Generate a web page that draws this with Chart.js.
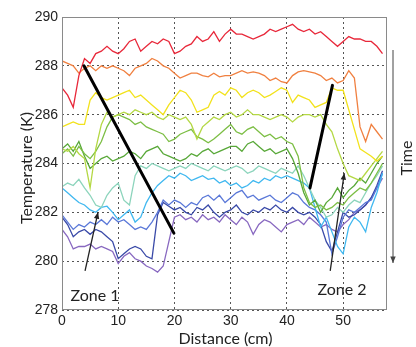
<!DOCTYPE html>
<html>
<head>
<meta charset="utf-8">
<script src="https://cdn.jsdelivr.net/npm/chart.js@4.4.1/dist/chart.umd.min.js"></script>
<style>
  html, body { margin: 0; padding: 0; background: #fff; }
  #wrap { width: 416px; height: 347px; }
</style>
</head>
<body>
<div id="wrap"><canvas id="chart" width="416" height="347"></canvas></div>
<script>
// distance along the sample (cm)
const distance = [0,1,2,3,4,5,6,7,8,9,10,11,12,13,14,15,16,17,18,19,20,21,22,23,24,25,26,27,28,29,
  30,31,32,33,34,35,36,37,38,39,40,41,42,43,44,45,46,47,48,49,50,51,52,53,54,55,56,57];

// temperature profiles (K), earliest first
const tRed = [287.1,286.8,286.3,287.6,288.3,288.1,288.5,288.6,288.8,288.6,288.5,288.7,289.0,289.1,288.6,288.8,289.0,288.9,289.1,289.0,
  288.5,288.6,288.8,288.9,289.2,289.0,289.1,289.4,289.0,289.3,289.5,289.3,289.3,289.2,289.1,289.2,289.3,289.5,289.4,289.5,
  289.6,289.7,289.5,289.4,289.5,289.3,289.4,289.2,289.0,288.8,289.0,289.2,289.1,289.1,289.0,289.0,288.8,288.5];
const tOrange = [288.2,288.1,288.0,287.7,287.9,288.0,287.8,288.0,287.9,288.0,287.9,287.8,287.6,287.9,288.0,288.1,288.3,288.2,288.0,287.9,
  287.7,287.5,287.6,287.7,287.7,287.6,287.55,287.7,287.55,287.6,287.6,287.7,287.8,287.7,287.75,287.7,287.6,287.4,287.5,287.35,
  287.3,287.6,287.75,287.8,287.75,287.7,287.6,287.4,287.5,287.3,287.4,287.8,287.5,285.5,284.9,285.6,285.3,285.0];
const tYellow = [285.5,285.6,285.7,285.6,285.6,286.6,286.9,286.7,286.6,286.7,286.8,286.9,287.0,286.7,286.8,286.6,286.4,286.2,286.0,286.4,
  286.7,287.0,286.9,286.6,286.1,286.2,286.3,286.8,286.95,286.8,287.1,287.0,286.7,286.9,287.0,286.9,286.7,286.8,286.95,287.1,
  287.0,286.5,286.8,286.7,286.6,286.3,286.4,286.5,287.1,287.0,287.0,286.2,285.4,284.6,284.45,284.3,284.1,284.3];
const tLime = [284.6,284.5,284.7,284.4,284.2,283.0,284.6,285.6,286.1,285.9,286.0,286.1,286.0,286.2,286.1,286.0,286.1,285.9,285.8,286.0,
  285.9,285.8,285.9,285.6,285.0,285.5,285.7,285.9,285.8,286.0,286.1,285.9,286.0,286.2,286.0,286.0,285.9,285.8,285.9,286.0,
  285.9,285.7,285.9,286.0,286.0,285.9,286.0,285.6,285.3,284.6,284.0,283.5,283.4,283.3,283.6,283.9,284.2,284.5];
const tGreen = [284.4,284.6,284.3,284.7,284.4,284.2,284.5,284.9,285.5,285.9,286.0,285.9,285.8,285.6,285.7,285.5,285.4,285.3,285.2,284.9,
  285.0,285.2,285.3,285.4,285.1,285.0,284.85,285.0,285.2,285.4,285.6,285.3,285.2,285.4,285.5,285.3,285.1,285.2,285.0,285.1,
  284.9,284.8,284.3,283.0,282.4,282.2,282.3,282.1,282.2,282.4,282.3,282.6,282.8,283.0,282.9,283.2,283.6,284.0];
const tDarkGreen = [284.6,284.8,284.5,284.9,284.3,283.8,284.0,284.2,284.3,284.1,284.2,284.3,284.5,284.4,284.2,284.5,284.6,284.7,284.4,284.3,
  284.2,284.1,284.2,284.4,284.3,284.5,284.6,284.4,284.5,284.6,284.7,284.7,284.5,284.8,284.9,284.7,284.5,284.6,284.4,284.5,
  284.6,284.2,283.6,282.8,282.3,282.5,282.0,282.4,282.6,283.0,282.6,282.9,283.1,283.4,283.2,283.6,284.0,284.3];
const tMint = [283.05,283.2,283.1,283.35,283.0,282.7,282.3,282.2,282.7,283.0,283.2,282.5,282.3,283.5,283.9,283.8,284.0,283.9,283.8,283.7,
  283.8,283.9,283.8,284.0,283.9,283.8,283.7,283.9,283.8,283.7,283.8,283.9,283.8,283.6,283.7,283.9,283.8,283.7,283.6,283.8,
  283.7,283.6,283.9,283.5,283.0,282.5,282.2,281.8,281.9,282.2,282.0,282.3,282.5,282.4,282.8,283.2,283.5,283.9];
const tSky = [283.0,282.8,282.6,282.4,282.3,282.1,282.0,282.2,282.25,282.0,281.7,281.9,282.1,281.6,281.8,282.4,282.8,283.1,283.3,283.5,
  283.4,283.6,283.5,283.3,283.4,283.5,283.35,283.4,283.2,283.3,283.1,283.2,283.0,283.1,283.3,283.2,283.4,283.3,283.5,283.4,
  283.5,283.4,283.3,283.2,283.0,282.2,281.4,281.8,281.2,280.6,280.3,281.4,281.8,281.6,281.2,282.2,282.8,283.6];
const tBlue = [281.9,281.6,281.3,281.5,281.4,281.6,281.5,281.7,281.5,281.8,281.6,281.7,281.5,281.3,281.4,281.3,281.6,282.0,282.5,282.3,
  282.5,282.4,282.2,282.4,282.3,282.6,282.7,282.5,282.7,282.4,282.6,282.8,282.9,282.6,282.7,282.5,282.6,282.7,282.5,282.4,
  282.6,282.8,282.7,282.4,282.2,282.1,281.9,281.6,280.3,281.0,281.8,282.1,282.0,282.2,282.4,282.5,283.0,283.6];
const tNavy = [281.8,281.5,281.0,281.2,281.3,281.1,281.3,281.2,281.0,280.8,280.1,280.3,280.5,280.6,280.5,280.2,280.1,281.9,282.4,282.25,
  282.1,282.2,282.0,281.9,282.2,282.1,282.3,282.0,281.8,282.0,282.1,282.3,282.0,281.9,282.1,282.0,282.2,282.1,282.3,282.1,
  282.0,282.2,282.0,281.9,282.0,281.8,281.5,280.8,280.4,281.2,282.0,281.8,281.9,282.1,282.3,282.6,283.1,283.7];
const tPurple = [281.3,281.0,280.5,280.6,280.6,280.7,280.5,280.6,280.5,280.4,279.9,280.2,280.35,280.1,280.0,279.8,279.7,279.55,279.8,280.8,
  281.8,281.9,281.7,281.8,281.6,281.9,281.7,281.8,281.6,281.9,281.7,281.5,281.8,281.6,281.1,281.5,281.7,281.6,281.4,281.2,
  281.5,281.6,281.7,281.5,281.8,281.6,281.4,281.5,281.3,281.2,281.5,281.7,282.0,282.1,282.3,282.6,283.0,283.4];

const profiles = [tRed, tOrange, tYellow, tLime, tGreen, tDarkGreen, tMint, tSky, tBlue, tNavy, tPurple];
const colors = ['#e8283a', '#f08040', '#f2e21c', '#b4d844', '#7cbe44', '#58a838', '#8cd4bc', '#40b8f0', '#5a78d8', '#3a4aa8', '#8868c0'];

const xTicks = [0, 10, 20, 30, 40, 50];
const yTicks = [278, 280, 282, 284, 286, 288, 290];

const labelFont = '16px Lato, "Open Sans", sans-serif';

// annotation marks: black front lines, arrows, labels
const overlay = {
  id: 'overlay',
  afterDatasetsDraw(chart) {
    const { ctx, chartArea: a, scales: { x, y } } = chart;
    const P = (dx, ty) => [x.getPixelForValue(dx), y.getPixelForValue(ty)];

    ctx.save();
    // frame
    ctx.strokeStyle = '#8a8a8a';
    ctx.lineWidth = 1;
    ctx.strokeRect(a.left + 0.5, a.top + 0.5, a.right - a.left - 1, a.bottom - a.top - 1);

    // thick front lines
    ctx.strokeStyle = '#000';
    ctx.lineWidth = 3;
    ctx.lineCap = 'round';
    [[3.9, 288.0, 19.9, 281.15], [48.1, 287.2, 44.1, 283.0]].forEach(([x1, y1, x2, y2]) => {
      const p1 = P(x1, y1), p2 = P(x2, y2);
      ctx.beginPath(); ctx.moveTo(p1[0], p1[1]); ctx.lineTo(p2[0], p2[1]); ctx.stroke();
    });

    // thin arrows
    const arrow = (p1, p2, color, w) => {
      const ang = Math.atan2(p2[1] - p1[1], p2[0] - p1[0]);
      ctx.strokeStyle = color; ctx.fillStyle = color; ctx.lineWidth = w;
      ctx.beginPath(); ctx.moveTo(p1[0], p1[1]); ctx.lineTo(p2[0], p2[1]); ctx.stroke();
      ctx.beginPath();
      ctx.moveTo(p2[0], p2[1]);
      ctx.lineTo(p2[0] - 7 * Math.cos(ang - 0.4), p2[1] - 7 * Math.sin(ang - 0.4));
      ctx.lineTo(p2[0] - 7 * Math.cos(ang + 0.4), p2[1] - 7 * Math.sin(ang + 0.4));
      ctx.closePath(); ctx.fill();
    };
    ctx.lineCap = 'butt';
    arrow(P(4.1, 279.6), P(6.4, 282.0), '#222', 1.3);
    arrow(P(47.7, 279.6), P(50.2, 283.6), '#222', 1.3);

    // time arrow outside the plot
    arrow([393, 50], [393, 263], '#444', 1);

    ctx.fillStyle = '#222';
    ctx.font = labelFont;
    ctx.textAlign = 'center';
    ctx.textBaseline = 'middle';
    ctx.fillText('Zone 1', 95, 296);
    ctx.fillText('Zone 2', 342, 290);
    ctx.fillText('Distance (cm)', (a.left + a.right) / 2 + 1, 339);

    ctx.save();
    ctx.translate(27, 168); ctx.rotate(-Math.PI / 2);
    ctx.fillText('Temperature (K)', 0, 0);
    ctx.restore();
    ctx.save();
    ctx.translate(407, 158); ctx.rotate(-Math.PI / 2);
    ctx.fillText('Time', 0, 0);
    ctx.restore();
    ctx.restore();
  }
};

new Chart(document.getElementById('chart').getContext('2d'), {
  type: 'line',
  data: {
    datasets: profiles.map((t, i) => ({
      data: distance.map((d, k) => ({ x: d, y: t[k] })),
      borderColor: colors[i],
      borderWidth: 1.3,
      pointRadius: 0,
      tension: 0,
      fill: false
    }))
  },
  options: {
    responsive: false,
    animation: false,
    layout: { padding: { top: 17, right: 29, left: 0, bottom: 0 } },
    plugins: { legend: { display: false }, tooltip: { enabled: false } },
    scales: {
      x: {
        type: 'linear', min: 0, max: 57.8,
        afterBuildTicks: s => { s.ticks = xTicks.map(v => ({ value: v })); },
        afterFit: s => { s.height = 37; },
        ticks: { color: '#222', font: { family: '"Liberation Sans", Arial', size: 14 }, padding: 3, maxRotation: 0 },
        grid: { color: '#555', lineWidth: 1, drawTicks: false },
        border: { display: false, dash: [2, 3] }
      },
      y: {
        type: 'linear', min: 278, max: 290,
        afterBuildTicks: s => { s.ticks = yTicks.map(v => ({ value: v })); },
        afterFit: s => { s.width = 62; },
        ticks: { color: '#222', font: { family: '"Liberation Sans", Arial', size: 14 }, padding: 4 },
        grid: { color: '#555', lineWidth: 1, drawTicks: false },
        border: { display: false, dash: [2, 3] }
      }
    }
  },
  plugins: [overlay]
});
</script>
</body>
</html>
